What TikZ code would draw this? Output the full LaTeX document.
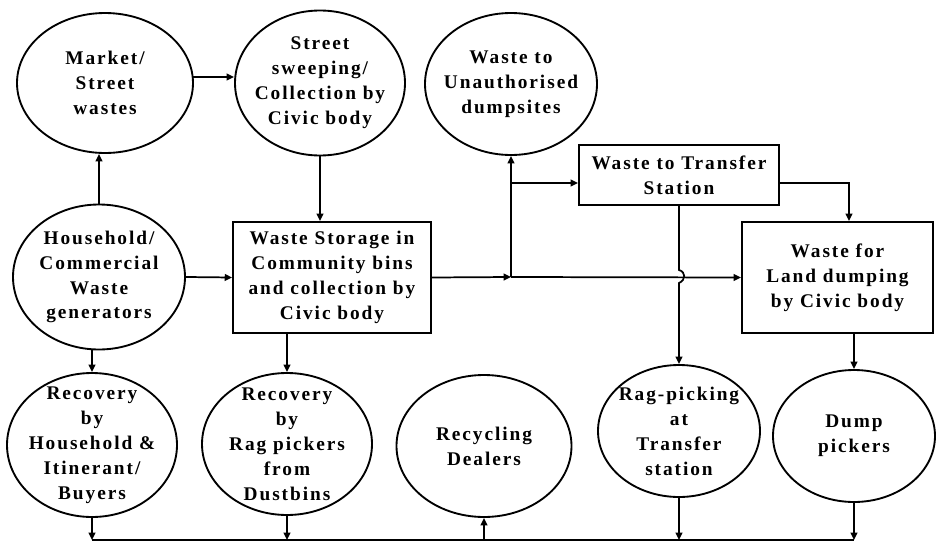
\documentclass[tikz,border=0pt]{standalone}
\usepackage{fontspec}
\setmainfont{Liberation Serif}[LetterSpace=10]
\usetikzlibrary{shapes.geometric,arrows.meta,calc}
\begin{document}
\begin{tikzpicture}[x=0.75pt,y=-0.75pt,
  every node/.style={font=\fontsize{14.5}{18.7}\selectfont\bfseries, align=center},
  ell/.style={ellipse, draw, line width=1.4pt, inner sep=-15pt},
  box/.style={rectangle, draw, line width=1.4pt, inner sep=2pt},
  arr/.style={line width=1.3pt, -{Triangle[length=5.5pt,width=5pt]}},
  ln/.style={line width=1.3pt}]
\useasboundingbox (0,0) rectangle (936,543);

\node[ell, minimum width=132pt, minimum height=105pt] (market) at (105,83) {Market/\\Street\\wastes};
\node[ell, minimum width=127.5pt, minimum height=108.75pt] (sweep) at (320,83) {Street\\sweeping/\\Collection by\\Civic body};
\node[ell, minimum width=129pt, minimum height=106.5pt] (unauth) at (511,84) {Waste to\\Unauthorised\\dumpsites};
\node[box, minimum width=150pt, minimum height=45pt] (transfer) at (679,175) {Waste to Transfer\\Station};
\node[ell, minimum width=129pt, minimum height=108.75pt] (household) at (99,277) {Household/\\Commercial\\Waste\\generators};
\node[box, minimum width=148.5pt, minimum height=83.25pt] (storage) at (332,277.5) {Waste Storage in\\Community bins\\and collection by\\Civic body};
\node[box, minimum width=143.25pt, minimum height=83.25pt] (land) at (837.5,277.5) {Waste for\\Land dumping\\by Civic body};
\node[ell, minimum width=127.5pt, minimum height=108pt] (rechh) at (92,445) {Recovery\\by\\Household \&\\Itinerant/\\Buyers};
\node[ell, minimum width=127.5pt, minimum height=106.5pt] (recrag) at (287,444) {Recovery\\by\\Rag pickers\\from\\Dustbins};
\node[ell, minimum width=131.25pt, minimum height=106.5pt] (recyc) at (484,446) {Recycling\\Dealers};
\node[ell, minimum width=121.5pt, minimum height=99pt] (ragpick) at (679,431) {Rag-picking\\at\\Transfer\\station};
\node[ell, minimum width=121.5pt, minimum height=99pt] (dump) at (854,436) {Dump\\pickers};

\coordinate (j) at (511,277);
\coordinate (b) at (511,183);
\coordinate (L) at (0,540);
\coordinate (m) at (193,77);

% top connections
\draw[arr] (household.north) -- (household.north |- market.south);
\draw[arr] (m) -- (m -| sweep.west);
\draw[arr] (sweep.south) -- (sweep.south |- storage.north);
\draw[arr] (household.east) -- (storage.west);
\draw[arr] (storage.east) -- (j);
\draw[arr] (j) -- (land.west);
\draw[arr] (j) -- (unauth.south);
\draw[arr] (b) -- (b -| transfer.west);
\draw[arr] (transfer.east |- b) -| ($(land.north)+(11.5,0)$);
\draw[arr] (transfer.south) -- (679,270) .. controls (686,272) and (686,280) .. (679,283) -- (ragpick.north);

% down to bottom row
\draw[arr] (rechh.north |- household.south) -- (rechh.north);
\draw[arr] (recrag.north |- storage.south) -- (recrag.north);
\draw[arr] (dump.north |- land.south) -- (dump.north);

% bottom collector line
\draw[ln] (rechh.south |- L) -- (dump.south |- L);
\draw[arr] (rechh.south) -- (rechh.south |- L);
\draw[arr] (recrag.south) -- (recrag.south |- L);
\draw[arr] (recyc.south |- L) -- (recyc.south);
\draw[arr] (ragpick.south) -- (ragpick.south |- L);
\draw[arr] (dump.south) -- (dump.south |- L);
\end{tikzpicture}
\end{document}
